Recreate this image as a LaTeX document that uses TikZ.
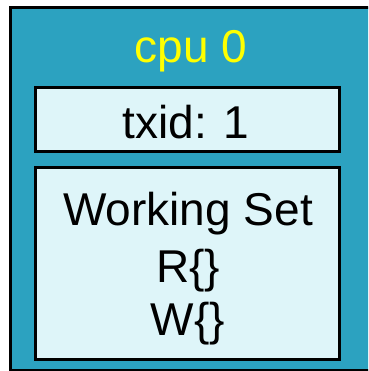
\documentclass[tikz,border=0pt]{standalone}
\usepackage{fontspec}
\setmainfont{Liberation Sans}
\definecolor{outerteal}{RGB}{44,162,192}
\definecolor{innercyan}{RGB}{222,245,249}
\definecolor{cpuyellow}{RGB}{255,255,0}
\tikzset{
  outerbox/.style={draw=black, fill=outerteal, line width=3pt},
  innerbox/.style={draw=black, fill=innercyan, line width=3pt},
  lbl/.style={anchor=base, inner sep=0pt, font=\fontsize{46}{54}\selectfont},
}
\begin{document}
\begin{tikzpicture}[x=1pt,y=-1pt]
\useasboundingbox (0,0) rectangle (368,371);
\clip (0,0) rectangle (368,371);
\draw[outerbox] (10,7.5) rectangle (375,370.5);
\draw[innerbox] (35,88) rectangle (339,152);
\draw[innerbox] (35,168) rectangle (339,359);
\node[lbl, text=cpuyellow] (cpu) at (191,63) {cpu 0};
\node[lbl] (txid) at (186,139) {txid: 1};
\node[lbl] (ws) at (188,225) {Working Set};
\node[lbl] (r) at (188,282) {R\{\}};
\node[lbl] (w) at (188,335) {W\{\}};
\end{tikzpicture}
\end{document}
